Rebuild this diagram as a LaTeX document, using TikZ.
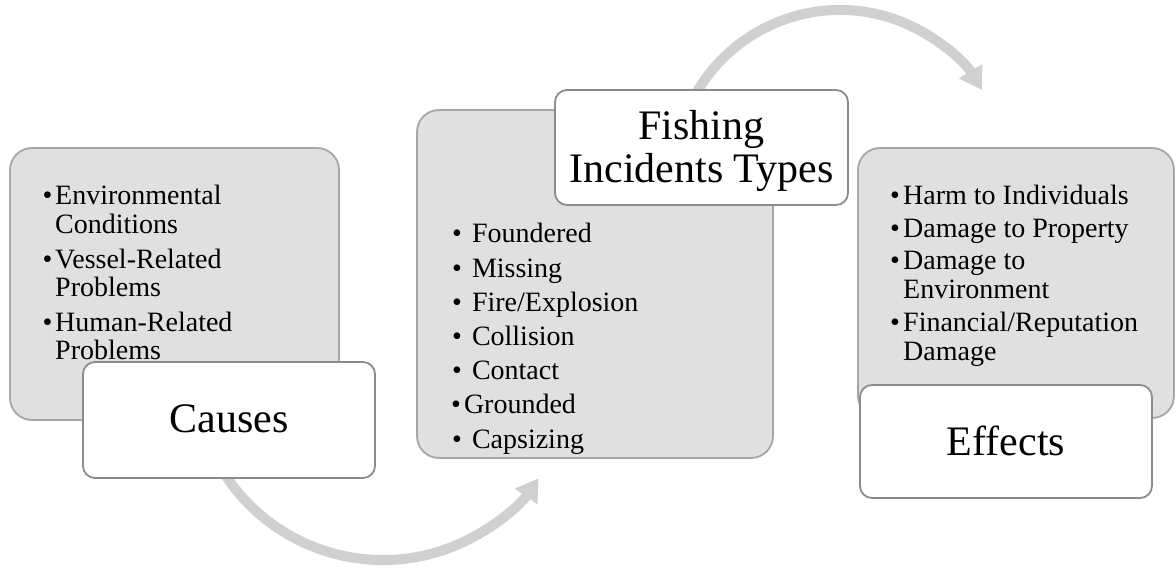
\documentclass[tikz,border=0pt]{standalone}
\usepackage{fontspec}
\setmainfont{Liberation Serif}
\usetikzlibrary{arrows.meta,calc}
\definecolor{panelfill}{RGB}{224,224,224}
\definecolor{panelline}{RGB}{166,166,166}
\definecolor{titleline}{RGB}{140,140,140}
\definecolor{flowarrow}{RGB}{208,208,208}
\tikzset{
  panel/.style={draw=panelline, line width=1.8pt, fill=panelfill,
    rounded corners=22pt, inner sep=0pt},
  titlebox/.style={draw=titleline, line width=1.8pt, fill=white,
    rounded corners=12pt, inner sep=0pt},
  titletext/.style={inner sep=0pt, anchor=base,
    font=\fontsize{42}{43}\selectfont},
  listtext/.style={inner sep=0pt, anchor=base west},
  flow/.style={draw=flowarrow, line width=10pt,
    -{Triangle[width=26pt,length=22pt]}},
}
\begin{document}
\begin{tikzpicture}[x=1pt,y=1pt]
\useasboundingbox (0,0) rectangle (1175,571);

% curved flow arrows, drawn first so the boxes cover their tails
\coordinate (arcA) at ($(383,200)+(205:189)$);
\draw[flow] (arcA) arc[start angle=205, end angle=325.4, radius=189];
\coordinate (arcB) at ($(840,395)+(155:166)$);
\draw[flow] (arcB) arc[start angle=155, end angle=31.2, radius=166];

% Causes
\node[panel, minimum width=329pt, minimum height=272pt] (causesPanel) at (174.5,287) {};
\node[listtext] (causesList) at (42.5,366) {\fontsize{28}{28.3}\selectfont
  \begin{tabular}[t]{@{}l@{\hspace{2.7pt}}l@{}}
  \textbullet & Environmental\\
              & Conditions\\[6.5pt]
  \textbullet & Vessel-Related\\
              & Problems\\[6.5pt]
  \textbullet & Human-Related\\
              & Problems
  \end{tabular}};
\node[titlebox, minimum width=292pt, minimum height=116pt] (causesBox) at (229,151) {};
\node[titletext] (causesTitle) at (229,139) {Causes};

% Fishing incident types
\node[panel, minimum width=356pt, minimum height=348pt] (typesPanel) at (595,287) {};
\node[listtext] (typesList) at (452,328) {\fontsize{28}{34.17}\selectfont
  \begin{tabular}[t]{@{}l@{}}
  \textbullet\hspace{10pt}Foundered\\
  \textbullet\hspace{10pt}Missing\\
  \textbullet\hspace{10pt}Fire/Explosion\\
  \textbullet\hspace{10pt}Collision\\
  \textbullet\hspace{10pt}Contact\\
  \hspace{-1pt}\textbullet\hspace{3pt}Grounded\\
  \textbullet\hspace{10pt}Capsizing
  \end{tabular}};
\node[titlebox, minimum width=293pt, minimum height=115pt] (typesBox) at (701.5,423.5) {};
\node[titletext, align=center] (typesTitle1) at (701.5,431) {Fishing};
\node[titletext, align=center] (typesTitle2) at (701.5,388) {Incidents Types};

% Effects
\node[panel, minimum width=316pt, minimum height=270pt] (effectsPanel) at (1016,288) {};
\node[listtext] (effectsList) at (890,366) {\fontsize{28}{29}\selectfont
  \begin{tabular}[t]{@{}l@{\hspace{3.2pt}}l@{}}
  \textbullet & Harm to Individuals\\[3.5pt]
  \textbullet & Damage to Property\\[3.5pt]
  \textbullet & Damage to\\
              & Environment\\[3.5pt]
  \textbullet & Financial/Reputation\\
              & Damage
  \end{tabular}};
\node[titlebox, minimum width=292pt, minimum height=113pt] (effectsBox) at (1006,129.5) {};
\node[titletext] (effectsTitle) at (1006,116) {Effects};
\end{tikzpicture}
\end{document}
